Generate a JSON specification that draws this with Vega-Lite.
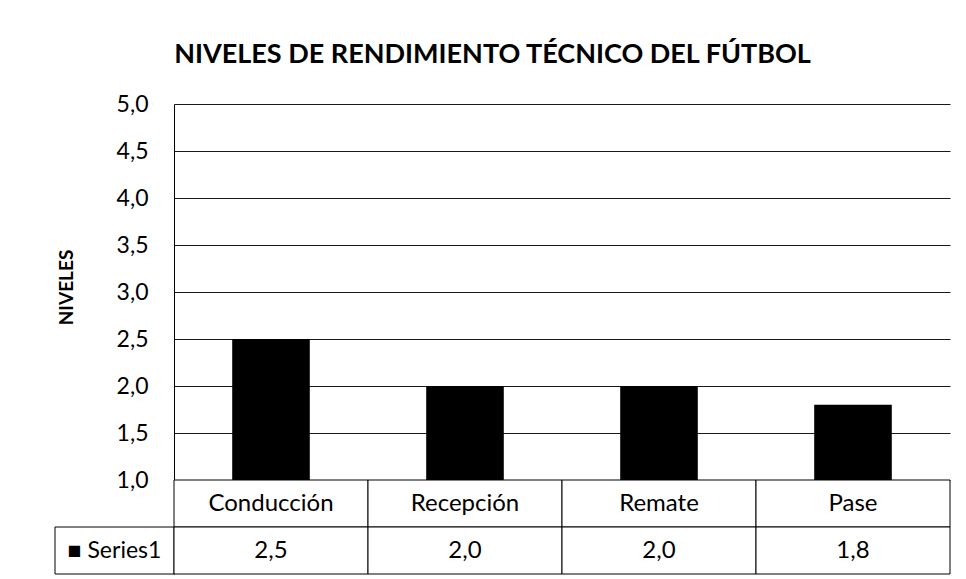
{
  "$schema": "https://vega.github.io/schema/vega-lite/v6.json",
  "autosize": {"type": "pad"},
  "padding": {"left": 54, "top": 41, "right": 0, "bottom": 0},
  "background": "white",
  "title": {
    "text": "NIVELES DE RENDIMIENTO TÉCNICO DEL FÚTBOL",
    "font": "Lato",
    "fontSize": 27,
    "fontWeight": "bold",
    "color": "black",
    "anchor": "middle",
    "dx": -10,
    "offset": 24
  },
  "datasets": {
    "niveles": [
      {"habilidad": "Conducción", "nivel": 2.5},
      {"habilidad": "Recepción", "nivel": 2.0},
      {"habilidad": "Remate", "nivel": 2.0},
      {"habilidad": "Pase", "nivel": 1.8}
    ],
    "serie": [{"serie": "Series1"}]
  },
  "spacing": 0,
  "bounds": "flush",
  "hconcat": [
    {
      "width": 119,
      "height": 470,
      "data": {"name": "serie"},
      "layer": [
        {
          "mark": {"type": "rect", "fill": "white", "stroke": "black", "strokeWidth": 1},
          "encoding": {
            "x": {"datum": 0, "type": "quantitative", "scale": {"domain": [0, 1], "nice": false}, "axis": null},
            "x2": {"datum": 1},
            "y": {"datum": 0, "type": "quantitative", "scale": {"domain": [0, 5], "nice": false}, "axis": null},
            "y2": {"datum": 0.5}
          }
        },
        {
          "mark": {"type": "text", "font": "Lato", "fontSize": 23, "color": "black"},
          "encoding": {
            "x": {"datum": 0.5, "type": "quantitative"},
            "y": {"datum": 0.25, "type": "quantitative"},
            "text": {"value": "■ Series1"}
          }
        }
      ]
    },
    {
      "width": 776,
      "height": 470,
      "data": {"name": "niveles"},
      "encoding": {
        "x": {
          "field": "habilidad",
          "type": "nominal",
          "sort": null,
          "scale": {"paddingInner": 0, "paddingOuter": 0},
          "axis": null
        }
      },
      "layer": [
        {
          "mark": {"type": "bar", "color": "black", "width": {"band": 0.4}},
          "encoding": {
            "y": {
              "field": "nivel",
              "type": "quantitative",
              "scale": {"domain": [0, 5], "nice": false, "zero": false},
              "axis": {
                "values": [1, 1.5, 2, 2.5, 3, 3.5, 4, 4.5, 5],
                "format": ".1f",
                "title": "NIVELES",
                "grid": true,
                "gridColor": "#1a1a1a",
                "gridOpacity": 1,
                "gridWidth": 1,
                "ticks": false,
                "domainColor": "black",
                "domainWidth": 1,
                "labelFont": "Lato",
                "labelFontSize": 23,
                "labelColor": "black",
                "labelPadding": 26,
                "titleFont": "Lato",
                "titleFontSize": 19,
                "titleFontWeight": "bold",
                "titleColor": "black",
                "titleX": -108,
                "titleY": 183,
                "titleBaseline": "middle"
              }
            },
            "y2": {"datum": 1}
          }
        },
        {
          "mark": {"type": "rect", "fill": "white", "stroke": "black", "strokeWidth": 1},
          "encoding": {
            "y": {"datum": 1, "type": "quantitative"},
            "y2": {"datum": 0.5}
          }
        },
        {
          "mark": {"type": "rect", "fill": "white", "stroke": "black", "strokeWidth": 1},
          "encoding": {
            "y": {"datum": 0.5, "type": "quantitative"},
            "y2": {"datum": 0}
          }
        },
        {
          "mark": {"type": "text", "font": "Lato", "fontSize": 24, "color": "black"},
          "encoding": {
            "y": {"datum": 0.75, "type": "quantitative"},
            "text": {"field": "habilidad"}
          }
        },
        {
          "mark": {"type": "text", "font": "Lato", "fontSize": 24, "color": "black"},
          "encoding": {
            "y": {"datum": 0.25, "type": "quantitative"},
            "text": {"field": "nivel", "type": "quantitative", "format": ".1f"}
          }
        }
      ]
    }
  ],
  "config": {
    "view": {"stroke": null},
    "locale": {
      "number": {"decimal": ",", "thousands": ".", "grouping": [3], "currency": ["", " €"]}
    }
  }
}
